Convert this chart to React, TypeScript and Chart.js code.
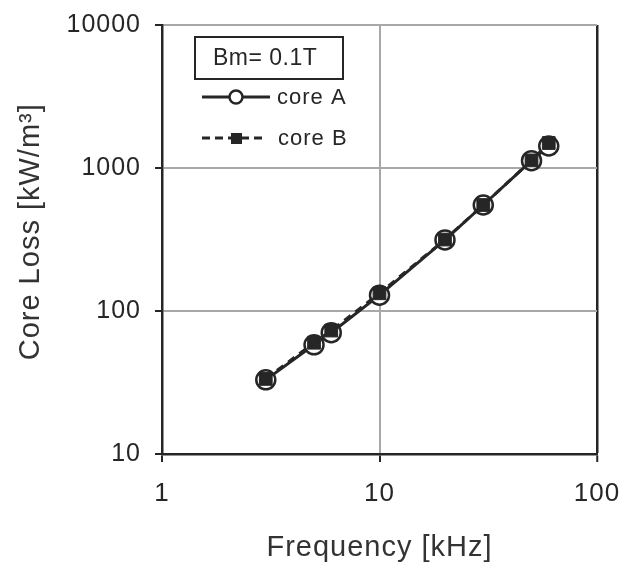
import React, { useEffect, useRef } from "react";
import { Chart, registerables } from "chart.js";

Chart.register(...registerables);

const frequencies = [3, 5, 6, 10, 20, 30, 50, 60];
const coreA = [33, 58, 70.5, 129, 314, 551, 1125, 1425];
const coreB = [33.5, 60, 73, 133, 316, 551, 1130, 1495];
const xTicks = [1, 10, 100];
const yTicks = [10, 100, 1000, 10000];
const legendTitle = "Bm= 0.1T";
const seriesNames = ["core A", "core B"];

const DARK = "#262626";
const GRID = "#a8a8a8";
const FONT = "'Liberation Sans', Arial, sans-serif";

const spacingPlugin = {
  id: "letterSpacing",
  beforeDraw(chart: any) {
    try {
      (chart.ctx as any).letterSpacing = "1px";
    } catch (e) {}
  },
};

const legendPlugin = {
  id: "customLegend",
  afterDraw(chart: any) {
    const ctx = chart.ctx as CanvasRenderingContext2D;
    ctx.save();
    // title box
    ctx.fillStyle = "#ffffff";
    ctx.fillRect(195, 37, 148, 42);
    ctx.strokeStyle = DARK;
    ctx.lineWidth = 2;
    ctx.strokeRect(195, 37, 148, 42);
    ctx.fillStyle = DARK;
    try {
      (ctx as any).letterSpacing = "0.5px";
    } catch (e) {}
    ctx.font = `23px ${FONT}`;
    ctx.textAlign = "left";
    ctx.textBaseline = "middle";
    ctx.fillText(legendTitle, 213, 59);

    // core A
    ctx.lineWidth = 3;
    ctx.setLineDash([]);
    ctx.beginPath();
    ctx.moveTo(202, 97);
    ctx.lineTo(270, 97);
    ctx.stroke();
    ctx.beginPath();
    ctx.arc(236, 97, 6.5, 0, Math.PI * 2);
    ctx.fillStyle = "#ffffff";
    ctx.fill();
    ctx.lineWidth = 2.5;
    ctx.stroke();

    // core B
    ctx.lineWidth = 3;
    ctx.setLineDash([8, 5]);
    ctx.beginPath();
    ctx.moveTo(202, 138);
    ctx.lineTo(266, 138);
    ctx.stroke();
    ctx.setLineDash([]);
    ctx.fillStyle = DARK;
    ctx.fillRect(231, 133, 11, 11);

    try {
      (ctx as any).letterSpacing = "1px";
    } catch (e) {}
    ctx.font = `22px ${FONT}`;
    ctx.textAlign = "left";
    ctx.fillStyle = DARK;
    ctx.fillText(seriesNames[0], 277, 98);
    ctx.fillText(seriesNames[1], 278, 139);
    ctx.restore();
  },
};

export default function App() {
  const ref = useRef<HTMLCanvasElement | null>(null);

  useEffect(() => {
    if (!ref.current) return;
    const chart = new Chart(ref.current, {
      type: "line",
      data: {
        datasets: [
          {
            label: seriesNames[0],
            data: frequencies.map((f, i) => ({ x: f, y: coreA[i] })),
            borderColor: DARK,
            borderWidth: 3,
            pointStyle: "circle",
            pointRadius: 9.5,
            pointBorderWidth: 2.5,
            pointBackgroundColor: "#ffffff",
            pointBorderColor: DARK,
            tension: 0,
            order: 2,
          },
          {
            label: seriesNames[1],
            data: frequencies.map((f, i) => ({ x: f, y: coreB[i] })),
            borderColor: DARK,
            borderWidth: 3,
            borderDash: [8, 6],
            pointStyle: "rect",
            pointRadius: 9,
            pointBorderWidth: 1,
            pointBackgroundColor: DARK,
            pointBorderColor: DARK,
            tension: 0,
            order: 1,
          },
        ],
      },
      options: {
        responsive: false,
        animation: false,
        layout: { padding: { top: 25, right: 25, left: 0, bottom: 0 } },
        plugins: {
          legend: { display: false },
          tooltip: { enabled: false },
        },
        scales: {
          x: {
            type: "logarithmic",
            min: 1,
            max: 100,
            afterBuildTicks: (s: any) => {
              s.ticks = xTicks.map((v) => ({ value: v }));
            },
            afterFit: (s: any) => {
              s.height = 109;
              s.paddingLeft = 0;
              s.paddingRight = 0;
            },
            grid: {
              color: (c: any) => (c.tick && c.tick.value === 100 ? DARK : GRID),
              lineWidth: (c: any) => (c.tick && c.tick.value === 100 ? 2.5 : 2),
              tickColor: DARK,
              tickWidth: 2,
              tickLength: 8,
            },
            border: { color: DARK, width: 2.5 },
            ticks: {
              color: DARK,
              font: { family: FONT, size: 26 },
              padding: 16,
              maxRotation: 0,
              autoSkip: false,
              callback: (v: any) => String(v),
            },
            title: {
              display: true,
              text: "Frequency [kHz]",
              color: "#333333",
              font: { family: FONT, size: 29, lineHeight: 1 },
              padding: { top: 0, bottom: 1 },
            },
          },
          y: {
            type: "logarithmic",
            min: 10,
            max: 10000,
            afterBuildTicks: (s: any) => {
              s.ticks = yTicks.map((v) => ({ value: v }));
            },
            afterFit: (s: any) => {
              s.width = 162;
              s.paddingTop = 0;
              s.paddingBottom = 0;
            },
            grid: {
              color: GRID,
              lineWidth: 2,
              tickColor: DARK,
              tickWidth: 2,
              tickLength: 7,
            },
            border: { color: DARK, width: 2.5 },
            ticks: {
              color: DARK,
              font: { family: FONT, size: 25 },
              padding: 14,
              autoSkip: false,
              callback: (v: any) => String(v),
            },
            title: {
              display: true,
              text: "\u2002Core Loss [kW/m³]",
              color: "#333333",
              font: { family: FONT, size: 29, lineHeight: 1 },
              padding: { top: 16, bottom: 0 },
            },
          },
        },
      },
      plugins: [spacingPlugin, legendPlugin],
    });
    return () => chart.destroy();
  }, []);

  return (
    <div style={{ position: "absolute", left: 0, top: 0, width: 622, height: 563, background: "#ffffff" }}>
      <canvas ref={ref} width={622} height={563} style={{ display: "block" }} />
    </div>
  );
}
